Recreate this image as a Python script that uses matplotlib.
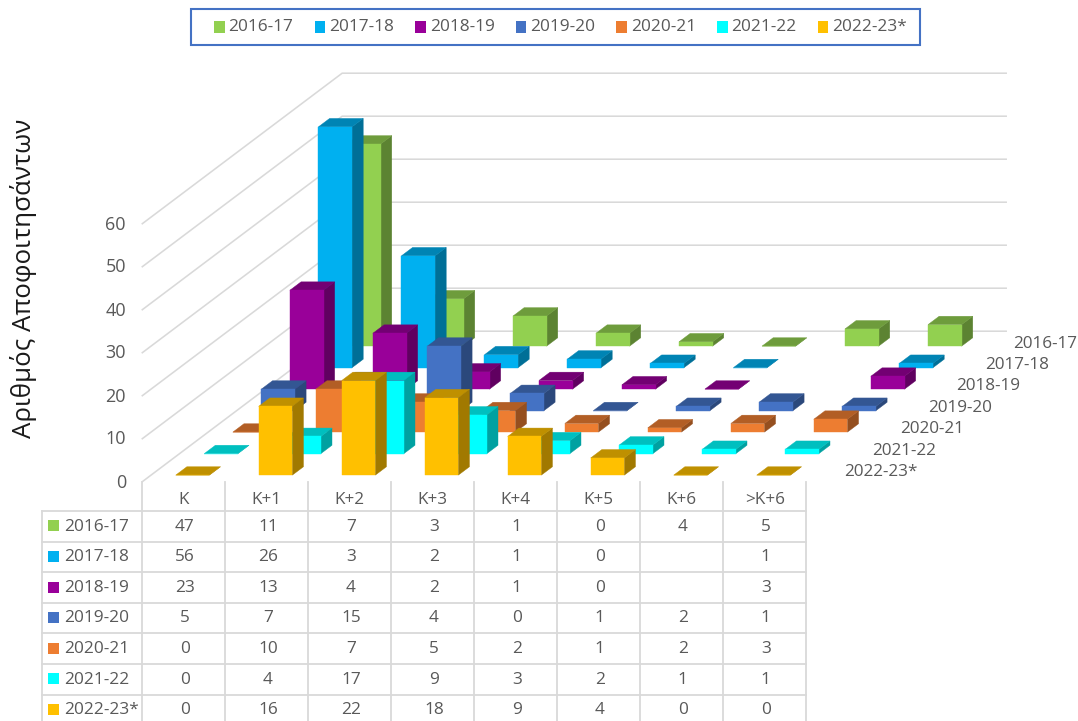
import numpy as np
import matplotlib
matplotlib.use("Agg")
import matplotlib.pyplot as plt
from matplotlib.colors import to_rgb
from matplotlib.patches import Rectangle

plt.rcParams['font.family'] = ['Open Sans', 'DejaVu Sans']

categories = ['K', 'K+1', 'K+2', 'K+3', 'K+4', 'K+5', 'K+6', '>K+6']
series_names = ['2016-17', '2017-18', '2018-19', '2019-20', '2020-21', '2021-22', '2022-23*']
v_2016 = [47, 11, 7, 3, 1, 0, 4, 5]
v_2017 = [56, 26, 3, 2, 1, 0, np.nan, 1]
v_2018 = [23, 13, 4, 2, 1, 0, np.nan, 3]
v_2019 = [5, 7, 15, 4, 0, 1, 2, 1]
v_2020 = [0, 10, 7, 5, 2, 1, 2, 3]
v_2021 = [0, 4, 17, 9, 3, 2, 1, 1]
v_2022 = [0, 16, 22, 18, 9, 4, 0, 0]
series_values = [v_2016, v_2017, v_2018, v_2019, v_2020, v_2021, v_2022]
colors = ['#92D050', '#00B0F0', '#990099', '#4472C4', '#ED7D31', '#00FFFF', '#FFC000']
y_ticks = [0, 10, 20, 30, 40, 50, 60]

GRID = '#d9d9d9'
TXT = '#595959'

# oblique projection of the chart's box
ORIGIN_X, ORIGIN_Y = 142.3, 481.7   # front-left floor corner
CAT_W = 83.0
DEPTH_X, DEPTH_Y = 28.55, -21.5     # per series row
UNIT = 4.3                          # per value unit
BAR_W = 33.6 / CAT_W
BAR_D = 0.39
N_D = len(series_names)


def proj(cat, depth, val):
    """cat in category units, depth in series rows from the front, val in data units"""
    return (ORIGIN_X + cat * CAT_W + depth * DEPTH_X,
            ORIGIN_Y + depth * DEPTH_Y - val * UNIT)


def shade(c, f):
    return tuple(f * x for x in to_rgb(c))


fig = plt.figure(figsize=(10.78, 7.21), dpi=100, facecolor='white')
ax = fig.add_axes([0, 0, 1, 1])
ax.set_xlim(0, 1078)
ax.set_ylim(721, 0)
ax.axis('off')

# walls
n_cat = len(categories)
for t in y_ticks:
    x0, y0 = proj(0, 0, t)
    x1, y1 = proj(0, N_D, t)
    x2, y2 = proj(n_cat, N_D, t)
    ax.plot([x0, x1, x2], [y0, y1, y2], color=GRID, lw=1.15, zorder=1, solid_joinstyle='miter')
    ax.text(126, y0 + 0.8, str(t), ha='right', va='center', fontsize=13, color=TXT)

# bars, back row first
z = 2
for s, (vals, col) in enumerate(zip(series_values, colors)):
    depth = N_D - 1 - s + (1 - BAR_D) / 2 + 0.0
    d0, d1 = depth, depth + BAR_D
    for c, v in enumerate(vals):
        if np.isnan(v):
            continue
        c0 = c + (1 - BAR_W) / 2
        c1 = c0 + BAR_W
        faces = [
            ([proj(c1, d0, 0), proj(c1, d1, 0), proj(c1, d1, v), proj(c1, d0, v)], shade(col, 0.63)),
            ([proj(c0, d0, v), proj(c1, d0, v), proj(c1, d1, v), proj(c0, d1, v)], shade(col, 0.75)),
            ([proj(c0, d0, 0), proj(c1, d0, 0), proj(c1, d0, v), proj(c0, d0, v)], to_rgb(col)),
        ]
        for pts, fc in faces:
            ax.fill(*zip(*pts), facecolor=fc, edgecolor=fc, lw=0.3, zorder=z)
    # row label on the right
    ax.text(843.8 + 28.17 * (N_D - 1 - s), 472.3 - 21.45 * (N_D - 1 - s), series_names[s],
            ha='left', va='center', fontsize=12.3, color=TXT, zorder=20)
    z += 1

# axis title
ax.text(24, 278, 'Αριθμός Αποφοιτησάντων', rotation=90, ha='center', va='center',
        fontsize=18.6, color='#1a1a1a')

# data table
tab_left = 41.7
tab_top = 482.0
head_bot = 511.0
row_h = 30.6
col_x = [ORIGIN_X + i * CAT_W for i in range(n_cat + 1)]
row_y = [head_bot + i * row_h for i in range(N_D + 1)]
for x in col_x:
    ax.plot([x, x], [tab_top, 721], color=GRID, lw=1.3, zorder=1)
ax.plot([tab_left, tab_left], [head_bot, 721], color=GRID, lw=1.3, zorder=1)
for y in row_y[:-1]:
    ax.plot([tab_left, col_x[-1]], [y, y], color=GRID, lw=1.3, zorder=1)
for i, name in enumerate(categories):
    ax.text((col_x[i] + col_x[i + 1]) / 2, 500.5, name, ha='center', va='center',
            fontsize=12.3, color=TXT)
for s, (name, vals, col) in enumerate(zip(series_names, series_values, colors)):
    yc = row_y[s] + row_h / 2 - 0.5
    ax.add_patch(Rectangle((48.3, yc - 5.5), 11, 11, facecolor=col, edgecolor='none'))
    ax.text(64, yc + 0.8, name, ha='left', va='center', fontsize=12.4, color=TXT)
    for i, v in enumerate(vals):
        if not np.isnan(v):
            ax.text((col_x[i] + col_x[i + 1]) / 2 + 1, yc + 0.8, str(int(v)), ha='center', va='center',
                    fontsize=12.4, color=TXT)

# legend
ax.add_patch(Rectangle((191, 8.5), 729, 36.5, facecolor='white', edgecolor='#4472C4', lw=1.5, zorder=5))
for i, (name, col) in enumerate(zip(series_names, colors)):
    lx = 214 + i * 100.6
    ax.add_patch(Rectangle((lx, 21), 10.5, 11.5, facecolor=col, edgecolor='none', zorder=6))
    ax.text(lx + 14.5, 27.2, name, ha='left', va='center', fontsize=12.4, color=TXT, zorder=6)

fig.savefig('out.png', dpi=100)
